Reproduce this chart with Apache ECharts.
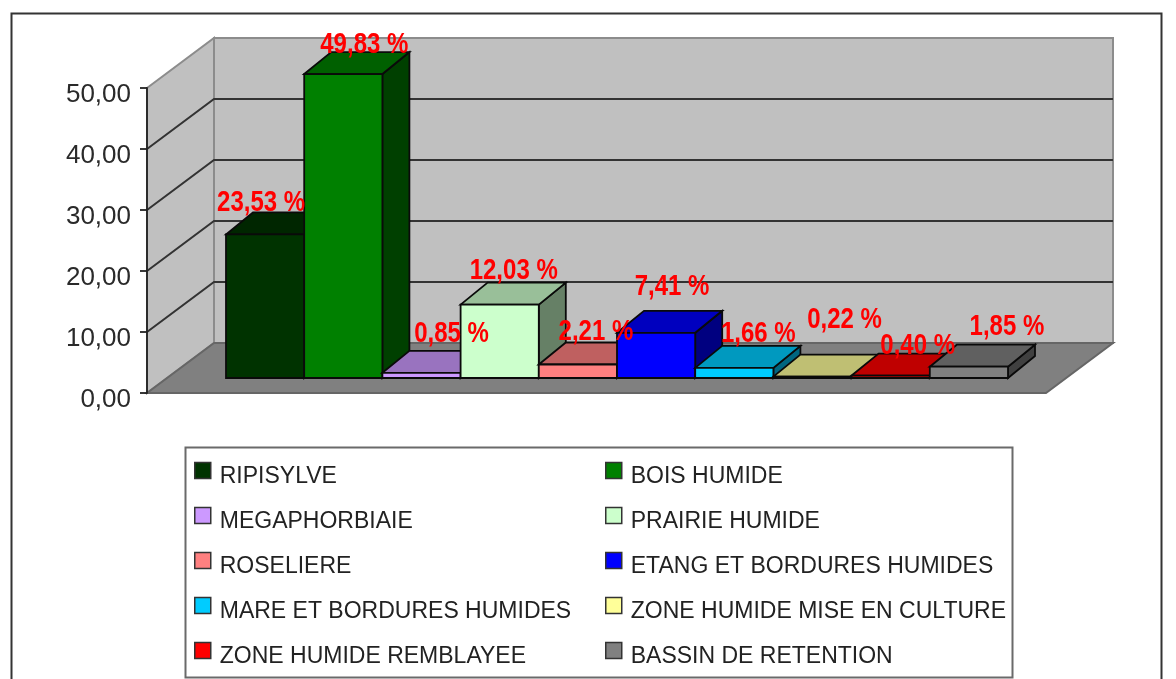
<!DOCTYPE html>
<html>
<head>
<meta charset="utf-8">
<style>html,body{margin:0;padding:0;background:#fff;overflow:hidden}#c{width:1176px;height:679px;filter:blur(0.5px)}</style>
<script src="https://cdn.jsdelivr.net/npm/echarts@6/dist/echarts.min.js"></script>
</head>
<body>
<div id="c"></div>
<script>
const categories = ['RIPISYLVE','BOIS HUMIDE','MEGAPHORBIAIE','PRAIRIE HUMIDE','ROSELIERE','ETANG ET BORDURES HUMIDES','MARE ET BORDURES HUMIDES','ZONE HUMIDE MISE EN CULTURE','ZONE HUMIDE REMBLAYEE','BASSIN DE RETENTION'];
const values = [23.53,49.83,0.85,12.03,2.21,7.41,1.66,0.22,0.40,1.85];
const barColors = ['#003300','#008000','#CC99FF','#CCFFCC','#FF8080','#0000FF','#00CCFF','#FFFF99','#FF0000','#808080'];
const yTicks = [0,10,20,30,40,50];

// label nudges relative to each bar's front-top centre (style only)
const labelNudge = [[-4,-32],[21,-29],[30,-39],[14,-34],[18,-33],[16,-46],[24,-34],[32,-57],[27,-30],[38,-40]];
const wall = {dx:67, dy:50};
const depth = {dx:27, dy:22};
const FONT = '"Liberation Sans", Arial, sans-serif';

function shade(hex,f){
  const n=parseInt(hex.slice(1),16);
  const c=[n>>16&255,n>>8&255,n&255].map(v=>Math.round(v*f));
  return 'rgb('+c.join(',')+')';
}
const fmtPct = v => v.toFixed(2).replace('.',',')+' %';

function poly(points,fill,stroke,lw){
  return {type:'polygon',shape:{points},style:{fill,stroke,lineWidth:lw}};
}

const wallSeries = {
  type:'custom', name:'walls', coordinateSystem:'cartesian2d', xAxisIndex:0, yAxisIndex:0, silent:true, z:1,
  data:[[0,0]],
  renderItem(p,api){
    const a=api.coord([0,0]), b=api.coord([1,0]), t=api.coord([0,50]);
    const d=wall;
    const back=[[a[0]+d.dx,t[1]-d.dy],[b[0]+d.dx,t[1]-d.dy],[b[0]+d.dx,a[1]-d.dy],[a[0]+d.dx,a[1]-d.dy]];
    const side=[[a[0],t[1]],[a[0]+d.dx,t[1]-d.dy],[a[0]+d.dx,a[1]-d.dy],[a[0],a[1]]];
    const floor=[[a[0],a[1]],[b[0],b[1]],[b[0]+d.dx,b[1]-d.dy],[a[0]+d.dx,a[1]-d.dy]];
    return {type:'group',children:[
      poly(back,'#C0C0C0','#8c8c8c',2),
      poly(side,'#C0C0C0','#8c8c8c',2),
      poly(floor,'#808080','#666',2)
    ]};
  }
};

const gridSeries = {
  type:'custom', name:'gridlines', coordinateSystem:'cartesian2d', xAxisIndex:0, yAxisIndex:0, silent:true, z:2,
  data:yTicks.filter(v=>v>0&&v<50).map(v=>[0,v]),
  renderItem(p,api){
    const a=api.coord([0,api.value(1)]), b=api.coord([1,api.value(1)]);
    const d=wall;
    return {type:'polyline',shape:{points:[a,[a[0]+d.dx,a[1]-d.dy],[b[0]+d.dx,b[1]-d.dy]]},
      style:{fill:'none',stroke:'#333',lineWidth:2}};
  }
};

function renderBar(p,api){
  const v=api.value(1), base=api.coord([api.value(0),0]), top=api.coord([api.value(0),v]);
  const w=api.size([1,0])[0], L=base[0]-w/2, R=base[0]+w/2, col=api.visual('color');
  const d=depth, edge='#0a0a0a';
  return {type:'group',children:[
    poly([[R,top[1]],[R+d.dx,top[1]-d.dy],[R+d.dx,base[1]-d.dy],[R,base[1]]],shade(col,0.5),edge,1.8),
    poly([[L,top[1]],[L+d.dx,top[1]-d.dy],[R+d.dx,top[1]-d.dy],[R,top[1]]],shade(col,0.75),edge,1.8),
    poly([[L,top[1]],[R,top[1]],[R,base[1]],[L,base[1]]],col,edge,1.8)
  ]};
}

const barSeries = categories.map((name,i)=>({
  type:'custom', name, coordinateSystem:'cartesian2d', xAxisIndex:1, yAxisIndex:1, z:3+i,
  encode:{x:0,y:1}, itemStyle:{color:barColors[i]},
  data:[[name,values[i]]], renderItem:renderBar
}));

const labelSeries = {
  type:'custom', name:'labels', coordinateSystem:'cartesian2d', xAxisIndex:1, yAxisIndex:1, silent:true, z:30,
  encode:{x:0,y:1},
  data:categories.map((n,i)=>[n,values[i]]),
  renderItem(p,api){
    const i=p.dataIndex, c=api.coord([api.value(0),api.value(1)]), n=labelNudge[i];
    return {type:'text',x:c[0]+n[0],y:c[1]+n[1],scaleY:1.25,style:{
      text:fmtPct(values[i]),fill:'#FF0000',font:'bold 24px '+FONT,align:'center',verticalAlign:'middle'}};
  }
};

const legendBase = {
  orient:'vertical', top:448, itemWidth:16, itemHeight:16, itemGap:10, icon:'rect', selectedMode:false,
  itemStyle:{borderColor:'#333',borderWidth:1.5},
  formatter:name=>'\n'+name,
  textStyle:{fontFamily:FONT,fontSize:23,lineHeight:12,color:'#222',padding:[0,0,0,4]}
};

const option = {
  backgroundColor:'#fff', animation:false,
  grid:[
    {left:147,top:88,width:899,height:305},
    {left:226,top:73,width:782,height:305}
  ],
  xAxis:[
    {gridIndex:0,type:'value',min:0,max:1,show:false},
    {gridIndex:1,type:'category',data:categories,show:false}
  ],
  yAxis:[
    {gridIndex:0,type:'value',min:0,max:50,interval:10,z:25,
     axisLine:{show:true,lineStyle:{color:'#222',width:1.8}},
     axisTick:{show:true,length:7,lineStyle:{color:'#222',width:1.8}},
     splitLine:{show:false},
     axisLabel:{margin:9,fontFamily:FONT,fontSize:26,color:'#2a2a2a',verticalAlign:'top',lineHeight:13,padding:[0,7,0,0],formatter:v=>v.toFixed(2).replace('.',',')}},
    {gridIndex:1,type:'value',min:0,max:50,interval:10,show:false}
  ],
  legend:[
    Object.assign({},legendBase,{left:189,data:categories.filter((n,i)=>i%2===0)}),
    Object.assign({},legendBase,{left:600,data:categories.filter((n,i)=>i%2===1)})
  ],
  graphic:[
    {type:'rect',z:-1,silent:true,shape:{x:11.5,y:13.5,width:1150,height:700},style:{fill:'#fff',stroke:'#333',lineWidth:2}},
    {type:'rect',z:0,silent:true,shape:{x:185.5,y:447.5,width:827,height:230},style:{fill:'#fff',stroke:'#6a6a6a',lineWidth:2}}
  ],
  series:[wallSeries,gridSeries,...barSeries,labelSeries]
};
const chart = echarts.init(document.getElementById('c'),null,{renderer:'canvas',width:1176,height:679});
chart.setOption(option);
</script>
</body>
</html>
